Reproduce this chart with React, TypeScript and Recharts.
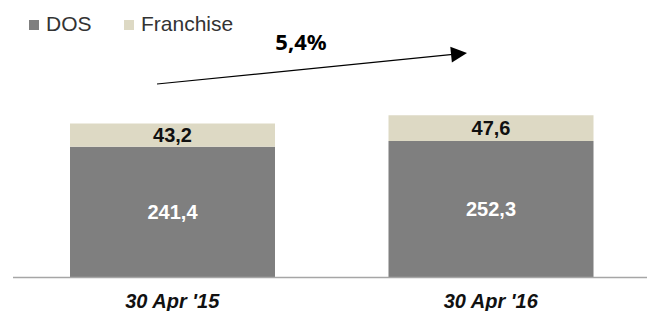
import React from 'react';
import { BarChart, Bar, XAxis, YAxis, LabelList, Customized } from 'recharts';

const categories = ["30 Apr '15", "30 Apr '16"];
const dosValues = [241.4, 252.3];
const franchiseValues = [43.2, 47.6];
const seriesNames = ['DOS', 'Franchise'];
const growthLabel = '5,4%';

const DOS_COLOR = '#7f7f7f';
const FRANCHISE_COLOR = '#ddd9c4';

const data = categories.map((name, i) => ({
    name,
    dos: dosValues[i],
    franchise: franchiseValues[i],
}));

const fmt = (v: any) => Number(v).toFixed(1).replace('.', ',');

const Tick = (props: any) => {
    const { x, y, payload } = props;
    return (
        <text
            x={x}
            y={y + 28}
            textAnchor='middle'
            fontFamily='Liberation Sans, Arial, sans-serif'
            fontWeight='bold'
            fontStyle='italic'
            fontSize={20}
            fill='#111'
        >
            {payload.value}
        </text>
    );
};

const Overlay = () => {
    // legend + growth arrow
    const x1 = 157, y1 = 84, x2 = 467, y2 = 53;
    const angle = (Math.atan2(y2 - y1, x2 - x1) * 180) / Math.PI;
    const colors = [DOS_COLOR, FRANCHISE_COLOR];
    const legendX = [29, 124];
    return (
        <g>
            {seriesNames.map((n, i) => (
                <g key={n}>
                    <rect x={legendX[i]} y={20} width={10} height={10} fill={colors[i]} />
                    <text
                        x={legendX[i] + 17}
                        y={31}
                        fontFamily='Liberation Sans, Arial, sans-serif'
                        fontSize={21}
                        fill='#333'
                    >
                        {n}
                    </text>
                </g>
            ))}
            <line x1={x1} y1={y1} x2={x2 - 14} y2={y2 + 1.4} stroke='#000' strokeWidth={1.2} />
            <polygon
                points={`${x2},${y2} ${x2 - 16},${y2 - 8} ${x2 - 16},${y2 + 8}`}
                fill='#000'
                transform={`rotate(${angle} ${x2} ${y2})`}
            />
            <text
                x={301}
                y={50}
                textAnchor='middle'
                fontFamily='Noto Sans, Open Sans, sans-serif'
                fontWeight='bold'
                fontSize={22}
                fill='#000'
            >
                {growthLabel}
            </text>
        </g>
    );
};

export default function App() {
    return (
        <div style={{ position: 'absolute', left: 0, top: 0 }}>
            <BarChart
                width={647}
                height={311}
                data={data}
                margin={{ top: 61, right: -3, left: 13, bottom: 0 }}
            >
                <XAxis
                    dataKey='name'
                    height={33.5}
                    tickLine={false}
                    tickSize={0}
                    axisLine={{ stroke: '#a6a6a6', strokeWidth: 1.5 }}
                    tick={<Tick />}
                    interval={0}
                />
                <YAxis hide domain={[0, 400]} />
                <Bar dataKey='dos' name='DOS' stackId='a' fill={DOS_COLOR} barSize={205} isAnimationActive={false}>
                    <LabelList
                        dataKey='dos'
                        position='center'
                        formatter={fmt}
                        fill='#fff'
                        fontFamily='Liberation Sans, Arial, sans-serif'
                        fontWeight='bold'
                        fontSize={20}
                    />
                </Bar>
                <Bar dataKey='franchise' name='Franchise' stackId='a' fill={FRANCHISE_COLOR} barSize={205} isAnimationActive={false}>
                    <LabelList
                        dataKey='franchise'
                        position='center'
                        formatter={fmt}
                        fill='#111'
                        fontFamily='Liberation Sans, Arial, sans-serif'
                        fontWeight='bold'
                        fontSize={20}
                    />
                </Bar>
                <Customized component={<Overlay />} />
            </BarChart>
        </div>
    );
}
